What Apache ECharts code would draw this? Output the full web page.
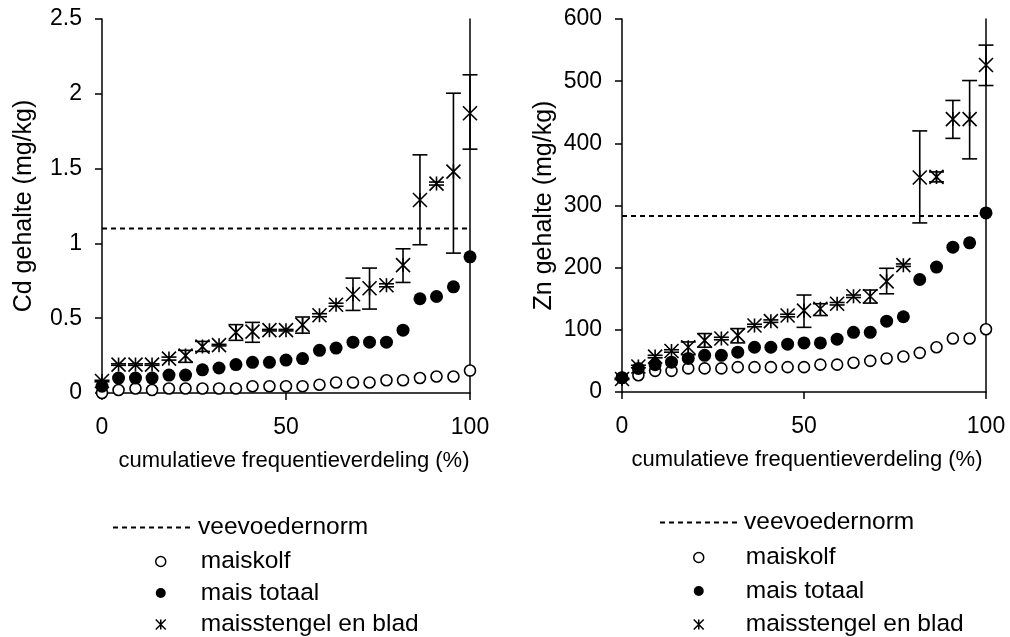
<!DOCTYPE html>
<html>
<head>
<meta charset="utf-8">
<script src="https://cdn.jsdelivr.net/npm/echarts@6/dist/echarts.min.js"></script>
<style>
html,body{margin:0;padding:0;background:#fff;}
#chart{width:1010px;height:637px;}
</style>
</head>
<body>
<div id="chart"></div>
<script>
// cumulative frequency positions (%)
const freq = [0,4.5,9.1,13.6,18.2,22.7,27.3,31.8,36.4,40.9,45.5,50,54.5,59.1,63.6,68.2,72.7,77.3,81.8,86.4,90.9,95.5,100];

// Cd (mg/kg)
const cdNorm = 1.1;
const cdKolf = [0,0.02,0.03,0.02,0.03,0.03,0.03,0.03,0.03,0.045,0.045,0.045,0.045,0.055,0.07,0.07,0.07,0.085,0.085,0.10,0.11,0.11,0.15];
const cdTotaal = [0.045,0.10,0.10,0.10,0.12,0.12,0.155,0.167,0.19,0.205,0.205,0.22,0.23,0.285,0.30,0.34,0.34,0.34,0.42,0.63,0.645,0.71,0.91];
const cdStengel = [0.08,0.19,0.19,0.19,0.23,0.25,0.31,0.32,0.405,0.41,0.42,0.42,0.455,0.52,0.59,0.66,0.70,0.72,0.855,1.29,1.40,1.48,1.87];
const cdStengelLow = [0.075,0.185,0.185,0.185,0.22,0.205,0.278,0.315,0.352,0.339,0.415,0.415,0.40,0.51,0.58,0.552,0.561,0.71,0.739,0.991,1.39,0.935,1.63];
const cdStengelHigh = [0.085,0.195,0.195,0.195,0.24,0.285,0.345,0.325,0.457,0.472,0.425,0.425,0.508,0.53,0.60,0.768,0.835,0.73,0.964,1.592,1.41,2.004,2.127];

// Zn (mg/kg)
const znNorm = 283;
const znKolf = [23,27,34,34,38,38,38,40,40,40,40,40,44,44,47,50,54,57,63,72,86,86,101];
const znTotaal = [23,38,44,48,54,59,59,64,72,72,77,79,79,85,96,96,114,121,181,201,233,240,288];
const znStengel = [21,41,57,66,72,83,86,91,107,114,123,131,134,142,154,154,178,204,345,346,439,439,526];
const znStengelLow = [20,39,55,64,60,72,84,79,105,112,121,104,123,140,152,143,158,202,272,338,408,375,493];
const znStengelHigh = [22,43,59,68,80.5,94,88,102,109,116,125,156,142,144,156,164,199,206,420,354,469,501,558];

// tick labels / names
const xName = 'cumulatieve frequentieverdeling (%)';
const cdName = 'Cd gehalte (mg/kg)';
const znName = 'Zn gehalte (mg/kg)';
const names = ['veevoedernorm','maiskolf','mais totaal','maisstengel en blad'];

const FONT = "'Liberation Sans', Arial, sans-serif";
const STAR = 'path://M0 0L14 14M14 0L0 14M7 0L7 14';

function pairs(ys){ return freq.map((x,i)=>[x, ys[i]]); }
function triples(lo, hi){ return freq.map((x,i)=>[x, lo[i], hi[i]]); }

function errRender(params, api){
  const x = api.value(0), lo = api.value(1), hi = api.value(2);
  const a = api.coord([x, lo]), b = api.coord([x, hi]);
  const hw = 7.5;
  const st = {stroke:'#000', lineWidth:1.6, fill:null};
  return {type:'group', children:[
    {type:'line', shape:{x1:a[0],y1:a[1],x2:b[0],y2:b[1]}, style:st},
    {type:'line', shape:{x1:a[0]-hw,y1:a[1],x2:a[0]+hw,y2:a[1]}, style:st},
    {type:'line', shape:{x1:b[0]-hw,y1:b[1],x2:b[0]+hw,y2:b[1]}, style:st}
  ]};
}

function xAxisCfg(gi, pad){
  return {
    gridIndex: gi, type:'value', min:0, max:100, interval:50,
    name: xName, nameLocation:'middle', nameGap:57,
    nameTextStyle:{fontFamily:FONT, fontSize:22, color:'#000', padding:pad},
    axisLine:{show:true, onZero:false, lineStyle:{color:'#000', width:1.5}},
    axisTick:{show:true, inside:false, length:7, lineStyle:{color:'#000', width:1.5}},
    axisLabel:{fontFamily:FONT, fontSize:23, color:'#000', margin:23},
    splitLine:{show:false}
  };
}
function yAxisCfg(gi, max, interval, name){
  return {
    gridIndex: gi, type:'value', min:0, max:max, interval:interval,
    name: name, nameLocation:'middle', nameGap:65, nameRotate:90,
    nameTextStyle:{fontFamily:FONT, fontSize:25, color:'#000'},
    axisLine:{show:true, onZero:false, lineStyle:{color:'#000', width:1.5}},
    axisTick:{show:true, inside:false, length:7, lineStyle:{color:'#000', width:1.5}},
    axisLabel:{fontFamily:FONT, fontSize:23, color:'#000', margin:20},
    splitLine:{show:false}
  };
}
function yRightCfg(gi, max, interval){
  return {
    gridIndex: gi, type:'value', min:0, max:max, interval:interval, position:'right',
    axisLine:{show:true, onZero:false, lineStyle:{color:'#000', width:1.5}},
    axisTick:{show:false}, axisLabel:{show:false}, splitLine:{show:false}
  };
}

function seriesFor(gi, yi, norm, kolf, totaal, stengel, lo, hi){
  return [
    {name:names[0], type:'line', xAxisIndex:gi, yAxisIndex:yi, data:[[0,norm],[100,norm]],
     symbol:'none', lineStyle:{color:'#000', width:2, type:[5,4]},
     itemStyle:{color:'rgba(0,0,0,0)', borderWidth:0, opacity:0}, silent:true, z:2},
    {name:names[1], type:'scatter', xAxisIndex:gi, yAxisIndex:yi, data:pairs(kolf), clip:false,
     symbol:'circle', symbolSize:11, itemStyle:{color:'#fff', borderColor:'#000', borderWidth:1.6, opacity:1}, z:3},
    {name:names[2], type:'scatter', xAxisIndex:gi, yAxisIndex:yi, data:pairs(totaal), clip:false,
     symbol:'circle', symbolSize:13, itemStyle:{color:'#000', borderColor:'#000', borderWidth:0, opacity:1}, z:4},
    {name:names[3]+' err', type:'custom', xAxisIndex:gi, yAxisIndex:yi, data:triples(lo,hi),
     renderItem: errRender, encode:{x:0, y:[1,2]}, clip:false, silent:true, z:5},
    {name:names[3], type:'scatter', xAxisIndex:gi, yAxisIndex:yi, data:pairs(stengel), clip:false,
     symbol:STAR, symbolSize:14, itemStyle:{color:'rgba(0,0,0,0)', borderColor:'#000', borderWidth:1.6, opacity:1}, z:6}
  ];
}

const legendText = {fontFamily:FONT, fontSize:24.5, color:'#000'};
function legendA(left, top, w){
  return {data:[{name:names[0], itemStyle:{opacity:0}}], orient:'vertical', left:left, top:top, itemWidth:w, itemHeight:14,
    padding:0, selectedMode:false, textStyle:legendText};
}
function legendB(left, top, w, gap){
  return {data:[
      {name:names[1], icon:'circle', itemStyle:{color:'#fff', borderColor:'#000', borderWidth:1.5, opacity:1}},
      {name:names[2], icon:'circle', itemStyle:{color:'#000', borderWidth:0, opacity:1}},
      {name:names[3], icon:STAR, itemStyle:{color:'rgba(0,0,0,0)', borderColor:'#000', borderWidth:1.5, opacity:1}}
    ], orient:'vertical', left:left, top:top, itemWidth:w, itemHeight:10, itemGap:gap,
    padding:0, selectedMode:false, textStyle:legendText};
}

const chart = echarts.init(document.getElementById('chart'), null, {renderer:'canvas'});
chart.setOption({
  animation:false,
  backgroundColor:'#fff',
  grid:[
    {left:102, top:19, width:368, height:374},
    {left:622, top:19, width:364, height:373}
  ],
  xAxis:[xAxisCfg(0, [0,0,0,16]), xAxisCfg(1, [0,0,0,6])],
  yAxis:[yAxisCfg(0,2.5,0.5,cdName), yAxisCfg(1,600,100,znName), yRightCfg(0,2.5,0.5), yRightCfg(1,600,100)],
  legend:[
    legendA(112, 515, 80),
    legendB(155, 549, 70, 6.5),
    legendA(659, 510, 79),
    legendB(693, 545, 84, 8.5)
  ],
  series:[].concat(
    seriesFor(0, 0, cdNorm, cdKolf, cdTotaal, cdStengel, cdStengelLow, cdStengelHigh),
    seriesFor(1, 1, znNorm, znKolf, znTotaal, znStengel, znStengelLow, znStengelHigh)
  )
});
</script>
</body>
</html>
